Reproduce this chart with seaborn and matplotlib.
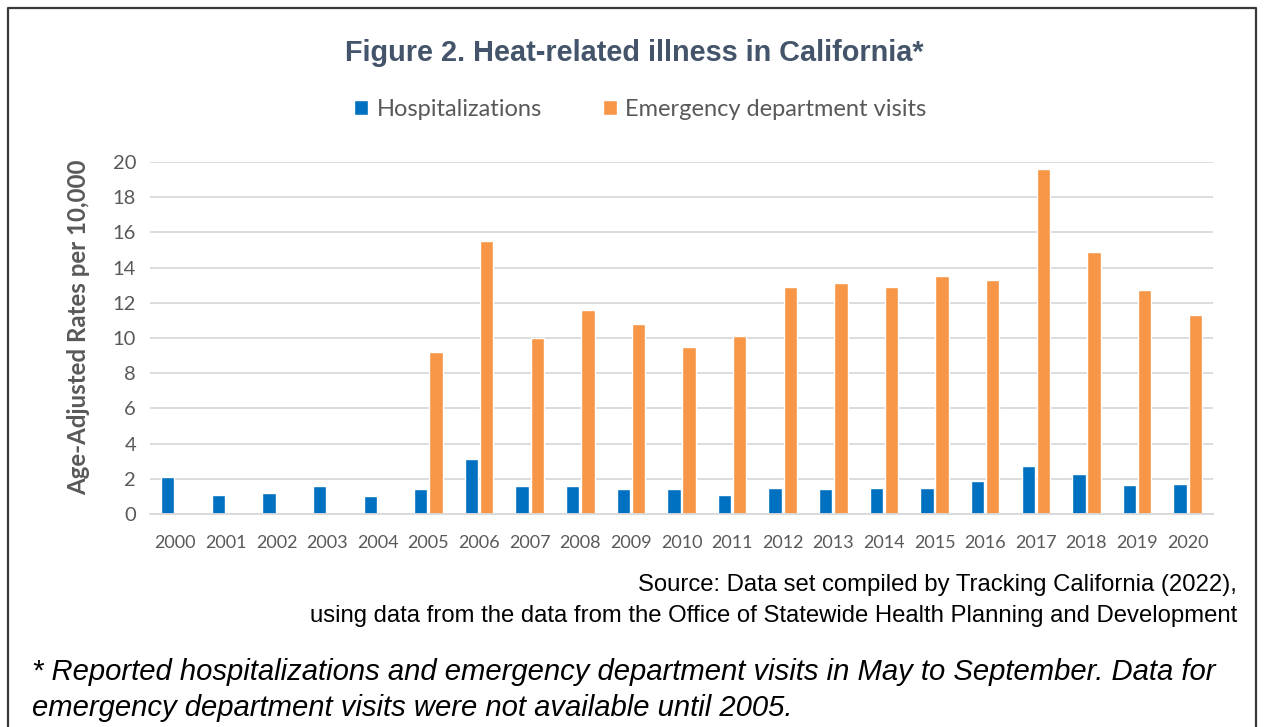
import matplotlib
matplotlib.use('Agg')
import matplotlib.pyplot as plt
from matplotlib.lines import Line2D
import numpy as np
import pandas as pd
import seaborn as sns

years = [str(y) for y in range(2000, 2021)]
hospitalizations = [2.1, 1.1, 1.2, 1.6, 1.0, 1.4, 3.1, 1.6, 1.6, 1.4, 1.4,
                    1.1, 1.5, 1.4, 1.5, 1.5, 1.9, 2.7, 2.3, 1.65, 1.7]
ed_visits = [np.nan, np.nan, np.nan, np.nan, np.nan, 9.2, 15.5, 10.0, 11.6, 10.8, 9.5,
             10.1, 12.9, 13.1, 12.9, 13.5, 13.3, 19.6, 14.9, 12.7, 11.3]
series_names = ['Hospitalizations', 'Emergency department visits']
colors = ['#0070C0', '#F79646']

df = pd.DataFrame({
    'year': years * 2,
    'rate': hospitalizations + ed_visits,
    'series': [series_names[0]] * len(years) + [series_names[1]] * len(years),
})

sns.set_style('white')
plt.rcParams['font.family'] = ['Lato', 'DejaVu Sans']

fig = plt.figure(figsize=(12.68, 7.27), dpi=100)
ax = fig.add_axes([0.1183, 0.293, 0.8383, 0.4842])

sns.barplot(data=df, x='year', y='rate', hue='series', order=years,
            hue_order=series_names, palette=colors, width=0.6, gap=0.12,
            errorbar=None, saturation=1, ax=ax)

ax.set_ylim(0, 20)
ax.set_xlim(-0.5, len(years) - 0.5)
ax.set_yticks(range(0, 21, 2))
ax.yaxis.grid(True, color='#D9D9D9', linewidth=1.3)
ax.set_axisbelow(True)
for side in ['left', 'right', 'top']:
    ax.spines[side].set_visible(False)
ax.spines['bottom'].set_color('#D9D9D9')
ax.spines['bottom'].set_linewidth(1.3)

ax.tick_params(axis='y', length=0, labelsize=14.5, labelcolor='#595959', pad=10)
ax.tick_params(axis='x', which='major', length=0, labelsize=13,
               labelcolor='#595959', pad=15)
ax.set_xticks(np.arange(-0.5, len(years), 1), minor=True)
ax.tick_params(axis='x', which='minor', length=6, width=1.3, color='#D9D9D9')

ax.set_xlabel('')
ax.set_ylabel('Age-Adjusted Rates per 10,000', fontsize=17.3, fontweight='bold',
              color='#595959')
ax.yaxis.set_label_coords(-0.056, 0.53)

# legend on top
handles, labels = ax.get_legend_handles_labels()
ax.get_legend().remove()
fig.legend(handles, labels, loc='center', bbox_to_anchor=(0.505, 0.849), ncol=2,
           frameon=False, fontsize=17, handlelength=0.6, handleheight=0.6,
           handletextpad=0.35, columnspacing=2.6, labelcolor='#595959')

fig.text(0.5, 0.927, 'Figure 2. Heat-related illness in California*',
         ha='center', va='center', fontsize=20.8, fontweight='bold',
         color='#44546A', family='Liberation Sans')

fig.text(0.9755, 0.196, 'Source: Data set compiled by Tracking California (2022),',
         ha='right', va='center', fontsize=17.2, family='Liberation Sans', color='black')
fig.text(0.9755, 0.152,
         'using data from the data from the Office of Statewide Health Planning and Development',
         ha='right', va='center', fontsize=17.2, family='Liberation Sans', color='black')

fig.text(0.025, 0.075,
         '* Reported hospitalizations and emergency department visits in May to September. Data for',
         ha='left', va='center', fontsize=21.1, style='italic',
         family='Liberation Sans', color='black')
fig.text(0.025, 0.026, 'emergency department visits were not available until 2005.',
         ha='left', va='center', fontsize=21.1, style='italic',
         family='Liberation Sans', color='black')

# frame around the figure (left, top, right)
x0, x1, y1 = 8 / 1268, 1256 / 1268, 1 - 8 / 727
frame = Line2D([x0, x0, x1, x1], [0, y1, y1, 0], transform=fig.transFigure,
               color='#3A3A3A', linewidth=1.6)
fig.add_artist(frame)

fig.savefig('out.png', dpi=100)
plt.close(fig)
